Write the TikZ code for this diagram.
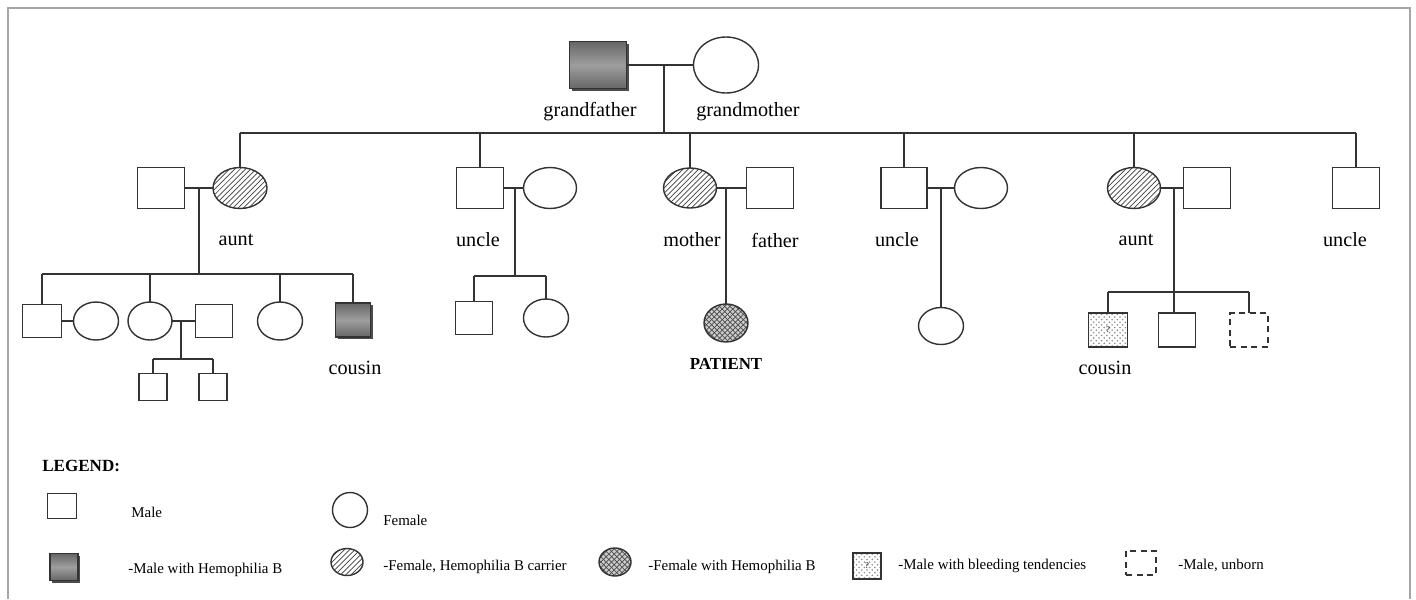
\documentclass[tikz,border=0pt]{standalone}
\usepackage{fontspec}
\setmainfont{Liberation Serif}
\usetikzlibrary{shapes.geometric,patterns,shadows}
\begin{document}
\begin{tikzpicture}
[x=0.02cm, y=-0.02cm,
 sz/.style 2 args={minimum width=#1*0.02cm, minimum height=#2*0.02cm},
 male/.style={rectangle, draw=black!80, line width=0.8pt, inner sep=0pt, outer sep=0pt},
 female/.style={ellipse, draw=black!80, line width=0.8pt, inner sep=0pt, outer sep=0pt},
 hemo/.style={male, top color=black!60, bottom color=black!60, middle color=black!38,
              drop shadow={shadow xshift=1.4pt, shadow yshift=-1.4pt, fill=black!70, opacity=1}},
 carrier/.style={female, pattern=north east lines, pattern color=black!75},
 affected/.style={female, preaction={fill=black!20}, pattern=crosshatch, pattern color=black!70},
 bleeder/.style={male, pattern=crosshatch dots, pattern color=black!45,
                 font=\fontsize{5}{5}\selectfont},
 unborn/.style={male, dash pattern=on 3.5pt off 2.5pt},
 tie/.style={black!80, line width=0.7pt},
 lbl/.style={font=\fontsize{11.5}{13}\selectfont},
 leg/.style={anchor=west, inner sep=0pt, font=\fontsize{8.5}{10}\selectfont}]
\useasboundingbox (0,0) rectangle (1416,599);
\draw[black!35, line width=1pt] (8,599) -- (8,8) -- (1410,8) -- (1410,599);

% grandparents
\node[hemo, sz={57}{47}] (gf) at (598,65) {};
\node[female, sz={65}{56}] (gm) at (726,65) {};
\node[lbl] (gfl) at (590,112) {grandfather};
\node[lbl] (gml) at (748,112) {grandmother};
\draw[tie] (gf) -- (gm);
\coordinate (m0) at (664,65);
\coordinate (s0l) at (240,133);
\coordinate (s0r) at (1356,133);
\draw[tie] (m0) -- (m0 |- s0l);
\draw[tie] (s0l) -- (s0r);

% children of the grandparents
\node[male, sz={47}{41}] (h1) at (161,188) {};
\node[carrier, sz={54}{41}] (a1) at (240,188) {};
\node[male, sz={47}{41}] (u1) at (480,188) {};
\node[female, sz={53}{41}] (w1) at (550,188) {};
\node[carrier, sz={53}{40}] (mo) at (690,188) {};
\node[male, sz={47}{41}] (fa) at (770,188) {};
\node[male, sz={46}{41}] (u2) at (904,188) {};
\node[female, sz={53}{41}] (w2) at (981,188) {};
\node[carrier, sz={53}{41}] (a2) at (1134,188) {};
\node[male, sz={47}{41}] (h2) at (1207,188) {};
\node[male, sz={47}{41}] (u3) at (1356,188) {};
\foreach \n in {a1,u1,mo,u2,a2,u3}
  \draw[tie] (\n.north) -- (\n.north |- s0l);
\foreach \a/\b in {h1/a1,u1/w1,mo/fa,u2/w2,a2/h2}
  \draw[tie] (\a) -- (\b);
\node[lbl] (a1l) at (236,240) {aunt};
\node[lbl] (u1l) at (478,240) {uncle};
\node[lbl] (mol) at (692,240) {mother};
\node[lbl] (fal) at (775,240) {father};
\node[lbl] (u2l) at (897,240) {uncle};
\node[lbl] (a2l) at (1136,240) {aunt};
\node[lbl] (u3l) at (1345,240) {uncle};

% family of the first aunt
\node[male, sz={39}{33}] (c11) at (42,321) {};
\node[female, sz={45}{38}] (p11) at (96,321) {};
\node[female, sz={44}{38}] (c12) at (150,321) {};
\node[male, sz={37}{33}] (p12) at (214,321) {};
\node[female, sz={45}{38}] (c13) at (280,321) {};
\node[hemo, sz={35}{34}] (c14) at (353,320) {};
\node[lbl] (c14l) at (355,368) {cousin};
\coordinate (m1) at (199,188);
\coordinate (s1) at (199,274);
\draw[tie] (m1) -- (s1);
\draw[tie] (c11.north |- s1) -- (c14.north |- s1);
\foreach \n in {c11,c12,c13,c14}
  \draw[tie] (\n.north) -- (\n.north |- s1);
\draw[tie] (c11) -- (p11);
\draw[tie] (c12) -- (p12);
\node[male, sz={28}{27}] (g1) at (153,387) {};
\node[male, sz={28}{27}] (g2) at (213,387) {};
\coordinate (m6) at (181,321);
\coordinate (s6) at (181,359);
\draw[tie] (m6) -- (s6);
\draw[tie] (g1.north |- s6) -- (g2.north |- s6);
\foreach \n in {g1,g2}
  \draw[tie] (\n.north) -- (\n.north |- s6);

% family of the first uncle
\node[male, sz={37}{33}] (c21) at (474,318) {};
\node[female, sz={45}{38}] (c22) at (546,318) {};
\coordinate (m2) at (515,188);
\coordinate (s2) at (515,276);
\draw[tie] (m2) -- (s2);
\draw[tie] (c21.north |- s2) -- (c22.north |- s2);
\foreach \n in {c21,c22}
  \draw[tie] (\n.north) -- (\n.north |- s2);

% parents and patient
\node[affected, sz={44}{38}] (pt) at (726,323) {};
\node[font=\bfseries\fontsize{9.6}{11}\selectfont] (ptl) at (726,364) {PATIENT};
\coordinate (m3) at (726,188);
\draw[tie] (m3) -- (pt.north);

% family of the second uncle
\node[female, sz={45}{37}] (c41) at (941,326) {};
\coordinate (m4) at (941,188);
\draw[tie] (m4) -- (c41.north);

% family of the second aunt
\node[bleeder, sz={39}{34}] (c51) at (1108,330) {?};
\node[male, sz={37}{34}] (c52) at (1177,330) {};
\node[unborn, sz={38}{34}] (c53) at (1249,330) {};
\node[lbl] (c51l) at (1105,368) {cousin};
\coordinate (m5) at (1174,188);
\coordinate (s5) at (1174,292);
\draw[tie] (m5) -- (m5 |- c52.north);
\draw[tie] (c51.north |- s5) -- (c53.north |- s5);
\foreach \n in {c51,c53}
  \draw[tie] (\n.north) -- (\n.north |- s5);

% legend
\node[anchor=west, inner sep=0pt, font=\bfseries\fontsize{9.7}{11}\selectfont] (lgt) at (42,466) {LEGEND:};
\node[male, sz={29}{25}] (lg1) at (62,506) {};
\node[leg] (lg1t) at (131,512) {Male};
\node[female, sz={35}{35}] (lg2) at (350,510) {};
\node[leg] (lg2t) at (383,520) {Female};
\node[hemo, sz={28}{27}] (lg3) at (64,567) {};
\node[leg] (lg3t) at (128,570) {-Male with Hemophilia B};
\node[carrier, sz={32}{27}] (lg4) at (347,562) {};
\node[leg] (lg4t) at (383,567) {-Female, Hemophilia B carrier};
\node[affected, sz={32}{28}] (lg5) at (615,562) {};
\node[leg] (lg5t) at (648,567) {-Female with Hemophilia B};
\node[bleeder, sz={28}{26}] (lg6) at (867,566) {?};
\node[leg] (lg6t) at (898,566) {-Male with bleeding tendencies};
\node[unborn, sz={30}{24}] (lg7) at (1141,563) {};
\node[leg] (lg7t) at (1178,565) {-Male, unborn};
\end{tikzpicture}
\end{document}
